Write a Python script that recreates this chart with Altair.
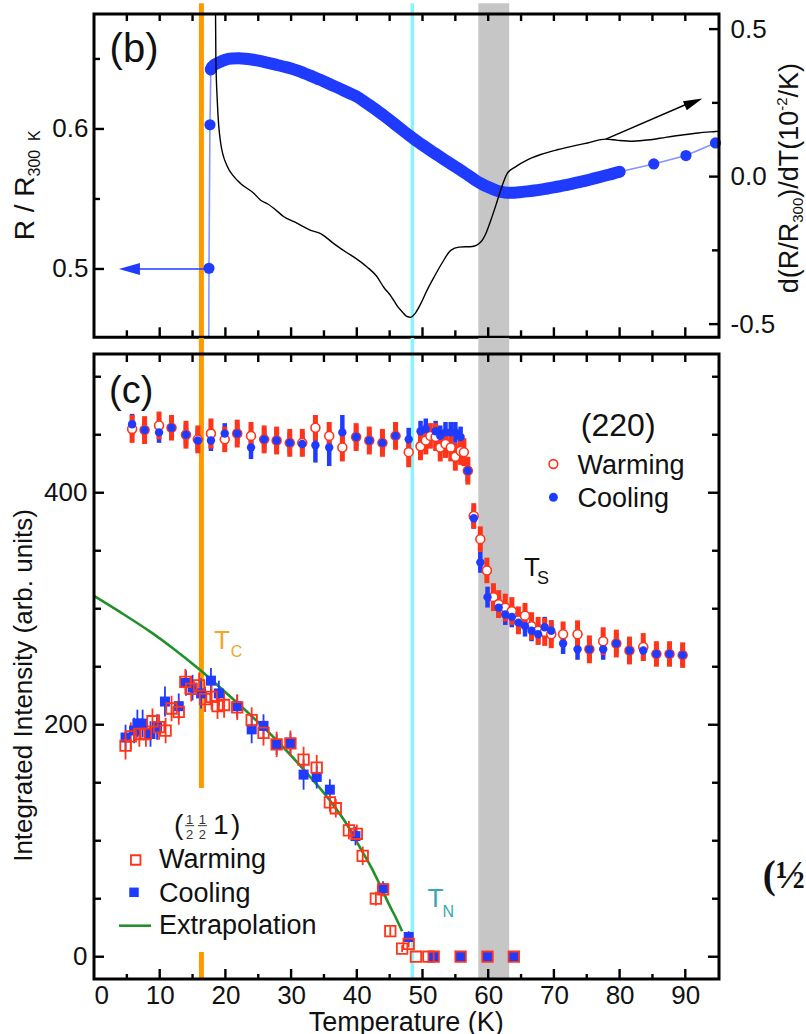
import altair as alt
import pandas as pd

FONT = "Liberation Sans"
SERIF = "Liberation Serif"
INK = "#111111"
BLUE = "#1f3bff"
RED = "#ff3418"
GREEN = "#22902a"
ORANGE = "#ff9900"
ORANGE_TXT = "#f7a22a"
CYAN = "#86f6fa"
TEAL = "#36a7b3"
GRAY = "#c6c6c6"
NB = "\u00a0"

# panel geometry (plot areas)
W = 625
H_TOP = 323.3
H_BOT = 625
GAP = 16
TOP_OVER = 10.7
LEFT_OFF = 93.3

T_DOM = [0, 95.13]
R_DOM = [0.4512, 0.6821]
D_DOM = [-0.5447, 0.5512]
I_DOM = [-19.2, 519.6]

# transition temperatures
T_C = 16.35
T_N = 48.45
T_S_LO, T_S_HI = 58.5, 63.2

# ---------------- (b) resistance ----------------
# steep drop at the superconducting transition and sparse high-T points
R_EDGE_T = [17.25, 17.5, 17.65, 17.78]
R_EDGE_V = [0.0, 0.5005, 0.603, 0.6425]
R_DENSE_T = [18, 19, 20, 21, 22, 23, 24, 25, 26, 27, 28, 29, 30, 31, 32, 33, 34, 35,
             36, 37, 38, 39, 40, 41, 42, 43, 44, 45, 46, 47, 48, 49, 50, 51, 52, 53,
             54, 55, 56, 57, 58, 59, 60, 61, 62, 63, 64, 65, 66, 67, 68, 69, 70, 71,
             72, 73, 74, 75, 76, 77, 78, 79, 80]
R_DENSE_V = [0.6445, 0.6475, 0.6495, 0.6503, 0.6505, 0.6502, 0.6496, 0.6488, 0.6478,
             0.6467, 0.6455, 0.6444, 0.6432, 0.6416, 0.6398, 0.6379, 0.6359, 0.6339,
             0.6318, 0.6297, 0.6275, 0.6253, 0.6231, 0.6200, 0.6168, 0.6135, 0.6100,
             0.6064, 0.6027, 0.5990, 0.5953, 0.5918, 0.5885, 0.5853, 0.5822, 0.5791,
             0.5760, 0.5730, 0.5700, 0.5668, 0.5635, 0.5608, 0.5585, 0.5565, 0.5550,
             0.5544, 0.5545, 0.5549, 0.5554, 0.5560, 0.5567, 0.5575, 0.5583, 0.5592,
             0.5601, 0.5611, 0.5622, 0.5633, 0.5645, 0.5657, 0.5669, 0.5681, 0.5694]
R_HIGH_T = [85.2, 90.1, 94.6]
R_HIGH_V = [0.575, 0.581, 0.590]

# derivative d(R/R300)/dT
D_T = [18.45, 18.55, 18.78, 19.28, 20.3, 21.3, 22.3, 24.35, 25.37, 26.4, 27.4, 28.9,
       30.44, 32.98, 34.5, 36.5, 38.5, 39.57, 41.6, 43.0, 44.1, 45.2, 46.2, 46.9,
       47.6, 48.2, 48.8, 49.7, 50.7, 51.75, 53.0, 54.3, 55.55, 57.6, 58.86, 59.7,
       60.4, 61.2, 61.9, 62.9, 64.2, 65.97, 68.0, 70.5, 73.0, 75.1, 77.9, 79.7,
       82.0, 84.7, 87.0, 89.8, 92.0, 94.6, 95.13]
D_V = [0.70, 0.40, 0.25, 0.114, 0.034, 0.0, -0.023, -0.057, -0.080, -0.092, -0.108,
       -0.136, -0.153, -0.182, -0.193, -0.227, -0.258, -0.273, -0.307, -0.337, -0.375,
       -0.405, -0.440, -0.458, -0.474, -0.477, -0.466, -0.432, -0.385, -0.341, -0.292,
       -0.250, -0.239, -0.237, -0.222, -0.190, -0.148, -0.095, -0.046, 0.011, 0.034,
       0.057, 0.075, 0.091, 0.104, 0.114, 0.127, 0.123, 0.120, 0.125, 0.133, 0.142,
       0.148, 0.153, 0.154]

# arrows pointing to each axis
ARROW_R = {"t0": 17.5, "t1": 5.0, "v": 0.5, "tip": 3.8}
ARROW_D = {"t0": 77.9, "t1": 91.5, "v0": 0.127, "v1": 0.258, "tip_t": 92.6, "tip_v": 0.265}

# ---------------- (c) (220) peak ----------------
W220_T = [5.8, 7.7, 9.9, 11.8, 14.0, 15.8, 17.8, 19.9, 21.8, 23.9, 25.9, 27.8, 29.8,
          31.7, 33.7, 35.8, 37.8, 39.9, 41.9, 43.9, 45.9, 47.9, 49.7, 50.5, 51.2, 52.0,
          52.7, 53.5, 54.3, 55.0, 55.8, 56.3, 56.9, 57.8, 58.8, 59.8, 60.8, 61.6, 62.6,
          63.6, 64.6, 65.6, 66.6, 67.6, 68.6, 69.6, 71.4, 73.6, 75.4, 77.5, 79.5, 81.5,
          83.6, 85.6, 87.6, 89.6]
W220_I = [455, 454, 458, 456, 450, 446, 451, 446, 451, 449, 446, 445, 443, 443, 456,
          449, 439, 448, 445, 443, 449, 435, 440, 445, 449, 448, 439, 442, 439, 431,
          436, 435, 419, 380, 360, 333, 310, 304, 301, 298, 290, 294, 285, 281, 280,
          278, 278, 278, 265, 272, 270, 264, 267, 261, 261, 260]
W220_E = [12, 12, 12, 11, 12, 12, 13, 11, 12, 12, 12, 12, 12, 12, 11, 12, 12, 12, 12,
          12, 12, 13, 12, 12, 11, 12, 12, 12, 12, 12, 12, 12, 12, 11, 11, 11, 12, 12,
          12, 12, 12, 11, 12, 12, 12, 12, 11, 12, 12, 12, 12, 12, 12, 11, 11, 11]
C220_T = [5.8, 7.7, 9.9, 11.8, 14.0, 15.8, 17.8, 19.9, 21.8, 23.9, 25.9, 27.8, 29.8,
          31.7, 33.7, 35.8, 37.8, 39.9, 41.9, 43.9, 45.9, 47.9, 49.7, 50.5, 52.0, 52.7,
          53.5, 54.3, 55.0, 55.8, 56.9, 57.8, 58.8, 59.9, 61.6, 62.6, 63.6, 64.6, 65.6,
          66.6, 67.6, 68.6, 69.6, 71.4, 73.6, 75.4, 77.5, 79.5, 81.5, 83.6, 85.6, 87.6,
          89.6]
C220_I = [459, 454, 452, 456, 450, 445, 445, 451, 451, 439, 446, 445, 443, 442, 441,
          439, 452, 448, 445, 443, 449, 446, 453, 455, 453, 449, 452, 452, 452, 448,
          419, 378, 340, 310, 301, 295, 293, 288, 285, 281, 278, 284, 281, 270, 265,
          265, 265, 270, 264, 264, 261, 261, 260]
C220_E = [9, 9, 9, 9, 9, 9, 9, 9, 9, 10, 9, 9, 9, 10, 15, 16, 15, 10, 9, 9, 10, 10, 9,
          9, 9, 9, 9, 9, 9, 9, 9, 9, 9, 9, 9, 9, 9, 9, 9, 9, 9, 9, 9, 9, 9, 9, 9, 9, 10,
          9, 9, 9, 9]

# ---------------- (c) (1/2 1/2 1) magnetic peak ----------------
HW_T = [4.8, 5.6, 6.9, 7.9, 8.9, 9.9, 10.9, 11.8, 12.9, 13.9, 14.8, 16.0, 16.9, 17.9,
        18.8, 19.8, 21.8, 24.0, 25.8, 27.8, 29.9, 31.9, 33.9, 35.9, 36.8, 38.8, 40.0,
        40.9, 42.9, 44.0, 45.1, 46.9, 47.9, 49.0, 50.9, 51.7, 55.8, 59.9, 63.9]
HW_I = [182, 190, 192, 192, 203, 198, 195, 214, 211, 237, 231, 234, 222, 224, 216,
        217, 215, 204, 193, 183, 184, 170, 163, 133, 128, 109, 106, 87, 50, 58, 22, 7,
        11, 0, 0, 0, 0, 0, 0]
HW_E = [12, 12, 11, 11, 11, 11, 11, 11, 11, 11, 11, 11, 11, 11, 11, 11, 11, 11, 11,
        11, 11, 11, 11, 8, 8, 8, 8, 8, 6, 6, 4, 3, 3, 0, 0, 0, 0, 0, 0]
HC_T = [4.8, 6.1, 6.6, 7.4, 8.6, 9.6, 10.8, 12.9, 14.0, 15.0, 16.3, 17.8, 19.0, 21.8,
        24.0, 25.8, 27.8, 29.9, 31.9, 33.9, 35.9, 39.8, 44.0, 47.9, 51.7, 55.8, 59.9,
        63.9]
HC_I = [189, 195, 201, 201, 192, 198, 220, 216, 236, 232, 227, 238, 227, 216, 196,
        199, 183, 184, 157, 155, 144, 104, 59, 17, 0, 0, 0, 0]
HC_E = [11, 11, 12, 12, 11, 11, 13, 11, 11, 11, 13, 11, 11, 10, 12, 10, 9, 9, 13, 10,
        9, 8, 6, 5, 0, 0, 0, 0]

# order-parameter extrapolation
EX_T = [0, 4, 8.6, 12, 16.2, 19.8, 23.9, 27.9, 31.5, 36.0, 38.5, 40.6, 42.2, 43.6,
        45.0, 46.0, 46.9]
EX_I = [311, 297, 280, 266, 247, 229, 208, 186, 164, 134, 114, 93, 77, 61, 44, 33, 22]

# tick positions
T_MAJOR = [10, 20, 30, 40, 50, 60, 70, 80, 90]
T_MINOR = [5, 15, 25, 35, 45, 55, 65, 75, 85]
T_LABELS = [0, 10, 20, 30, 40, 50, 60, 70, 80, 90]
R_MAJOR, R_MINOR = [0.5, 0.6], [0.55, 0.65]
D_MAJOR, D_MINOR = [-0.5, 0.0, 0.5], [-0.25, 0.25]
I_MAJOR = [0, 200, 400]
I_MINOR = [50, 100, 150, 250, 300, 350, 450, 500]

# glyph advance widths (Arial metrics) used to chain sub/superscript pieces
ADV = {"d": 0.556, "(": 0.333, ")": 0.333, "R": 0.722, "/": 0.278, "3": 0.556,
       "0": 0.556, "T": 0.611, "1": 0.556, "-": 0.333, "2": 0.556, "K": 0.667,
       " ": 0.278, NB: 0.278}

xs = alt.Scale(domain=T_DOM, nice=False, zero=False)
rs = alt.Scale(domain=R_DOM, nice=False, zero=False)
ds = alt.Scale(domain=D_DOM, nice=False, zero=False)
ys = alt.Scale(domain=I_DOM, nice=False, zero=False)

ONE = pd.DataFrame({"k": [0]})


def X(field="t"):
    return alt.X(f"{field}:Q", scale=xs, axis=None)


def text(s, x, y, size, color=INK, align="left", angle=0, font=FONT,
         weight="normal", baseline="alphabetic"):
    return alt.Chart(ONE).mark_text(
        text=s, align=align, baseline=baseline, fontSize=size, font=font,
        fontWeight=weight, color=color, angle=angle
    ).encode(x=alt.value(x), y=alt.value(y))


def rotated_runs(pieces, x_base, y_start):
    """Chain rotated (reading upward) text pieces with baseline shifts."""
    layers, pos = [], y_start
    for s, size, shift in pieces:
        layers.append(text(s, x_base + shift, pos, size, angle=270))
        pos -= sum(ADV[c] for c in s) * size
    return layers


def vline(t, color, width, y0, y1):
    return alt.Chart(pd.DataFrame({"t": [t]})).mark_rule(
        color=color, strokeWidth=width).encode(x=X(), y=alt.value(y0), y2=alt.value(y1))


def band(y0, y1):
    return alt.Chart(pd.DataFrame({"a": [T_S_LO], "b": [T_S_HI]})).mark_rect(
        color=GRAY).encode(x=X("a"), x2="b:Q", y=alt.value(y0), y2=alt.value(y1))


def xticks(vals, y0, y1):
    return alt.Chart(pd.DataFrame({"t": vals})).mark_rule(
        color="black", strokeWidth=2.4).encode(x=X(), y=alt.value(y0), y2=alt.value(y1))


def yticks(vals, scale, x0, x1):
    return alt.Chart(pd.DataFrame({"v": vals})).mark_rule(
        color="black", strokeWidth=2.4).encode(
        y=alt.Y("v:Q", scale=scale, axis=None), x=alt.value(x0), x2=alt.value(x1))


def frame(h):
    return alt.Chart(ONE).mark_rect(fillOpacity=0, stroke="black", strokeWidth=3).encode(
        x=alt.value(0), x2=alt.value(W), y=alt.value(0), y2=alt.value(h))


AXIS_LABELS = dict(ticks=False, tickSize=0, domain=False, grid=False, labelFont=FONT,
                   labelFontSize=26, labelColor=INK, title=None)

# ======================= panel (b) =======================
r_line = pd.DataFrame({"t": R_EDGE_T + R_DENSE_T + R_HIGH_T,
                       "v": R_EDGE_V + R_DENSE_V + R_HIGH_V})
r_dense = pd.DataFrame({"t": R_EDGE_T[-1:] + R_DENSE_T, "v": R_EDGE_V[-1:] + R_DENSE_V})
r_dots = pd.DataFrame({"t": R_EDGE_T[1:] + R_DENSE_T + R_HIGH_T,
                       "v": R_EDGE_V[1:] + R_DENSE_V + R_HIGH_V})
deriv = pd.DataFrame({"t": D_T, "v": D_V})

thin_r = alt.Chart(r_line).mark_line(color=BLUE, strokeWidth=1.6, opacity=0.55, clip=True).encode(
    x=X(), y=alt.Y("v:Q", scale=rs, axis=None))
thick_r = alt.Chart(r_dense).mark_line(color=BLUE, strokeWidth=12, strokeCap="round",
                                       interpolate="monotone").encode(
    x=X(), y=alt.Y("v:Q", scale=rs, axis=None))
dots_r = alt.Chart(r_dots).mark_circle(size=125, color=BLUE, opacity=1).encode(
    x=X(), y=alt.Y("v:Q", scale=rs, axis=alt.Axis(orient="left", values=R_MAJOR, format=".1f",
                                                   labelPadding=6, **AXIS_LABELS)))
arrow_r = alt.Chart(pd.DataFrame({"a": [ARROW_R["t0"]], "b": [ARROW_R["t1"]],
                                  "v": [ARROW_R["v"]]})).mark_rule(
    color=BLUE, strokeWidth=1.6).encode(x=X("a"), x2="b:Q", y=alt.Y("v:Q", scale=rs, axis=None))
head_r = alt.Chart(pd.DataFrame({"t": [ARROW_R["tip"]], "v": [ARROW_R["v"]]})).mark_point(
    shape="M0,0L1,-0.29L1,0.29Z", size=1764, filled=True, color=BLUE, opacity=1).encode(
    x=X(), y=alt.Y("v:Q", scale=rs, axis=None))

curve_d = alt.Chart(deriv).mark_line(color="black", strokeWidth=1.4, clip=True,
                                     interpolate="monotone").encode(
    x=X(), y=alt.Y("v:Q", scale=ds, axis=alt.Axis(
        orient="right", values=D_MAJOR, labelPadding=11,
        labelExpr="datum.value < 0 ? '-' + format(-datum.value, '.1f') : format(datum.value, '.1f')",
        **AXIS_LABELS)))
arrow_d = alt.Chart(pd.DataFrame({"a": [ARROW_D["t0"]], "b": [ARROW_D["t1"]],
                                  "v0": [ARROW_D["v0"]], "v1": [ARROW_D["v1"]]})).mark_rule(
    color="black", strokeWidth=1.4).encode(
    x=X("a"), x2="b:Q", y=alt.Y("v0:Q", scale=ds, axis=None), y2="v1:Q")
head_d = alt.Chart(pd.DataFrame({"t": [ARROW_D["tip_t"]], "v": [ARROW_D["tip_v"]]})).mark_point(
    shape="M0,0L-1,-0.26L-1,0.26Z", size=1444, filled=True, color="black", opacity=1,
    angle=337.3).encode(x=X(), y=alt.Y("v:Q", scale=ds, axis=None))

left_title = rotated_runs([(f"R{NB}/{NB}R", 28, 0), (f"300{NB}{NB}K", 16, 6)], -60.3, 226.3)
right_title = rotated_runs([("d(R/R", 27, 0), ("300", 15, 5), (")/dT(10", 27, 0),
                            ("-2", 15, -11), ("/K)", 27, 0)], 703.7, 279.3)

anchor = alt.Chart(ONE).mark_rule(opacity=0, strokeWidth=0).encode(
    x=alt.value(-LEFT_OFF), y=alt.value(-TOP_OVER), y2=alt.value(0))

top = alt.layer(
    band(-TOP_OVER, H_TOP),
    vline(T_N, CYAN, 3.5, -TOP_OVER, H_TOP),
    vline(T_C, ORANGE, 5, -TOP_OVER, H_TOP),
    thin_r, thick_r, dots_r, arrow_r, head_r,
    curve_d, arrow_d, head_d,
    xticks(T_MAJOR + T_MINOR, 0, 7),
    xticks(T_MAJOR, H_TOP - 10, H_TOP),
    xticks(T_MINOR, H_TOP - 7, H_TOP),
    yticks(R_MAJOR, rs, 0, 10),
    yticks(R_MINOR, rs, 0, 6),
    yticks(D_MAJOR, ds, W - 10, W),
    yticks(D_MINOR, ds, W - 7, W),
    frame(H_TOP),
    text("(b)", 40, 47.6, 40, align="center"),
    *left_title, *right_title,
    anchor,
).resolve_scale(y="independent").properties(width=W, height=H_TOP)

# ======================= panel (c) =======================
def err_rules(ts, vals, errs, color, width):
    d = pd.DataFrame({"t": ts, "lo": [v - e for v, e in zip(vals, errs)],
                      "hi": [v + e for v, e in zip(vals, errs)]})
    return alt.Chart(d).mark_rule(color=color, strokeWidth=width).encode(
        x=X(), y=alt.Y("lo:Q", scale=ys, axis=None), y2="hi:Q")


def pts(ts, vals):
    return pd.DataFrame({"t": ts, "v": vals})


def Yc():
    return alt.Y("v:Q", scale=ys, axis=None)


extrap = alt.Chart(pts(EX_T, EX_I)).mark_line(color=GREEN, strokeWidth=2.6,
                                              interpolate="monotone").encode(
    x=alt.X("t:Q", scale=xs, axis=alt.Axis(orient="bottom", values=T_LABELS, format="d",
                                           labelPadding=3, **AXIS_LABELS)),
    y=alt.Y("v:Q", scale=ys, axis=alt.Axis(orient="left", values=I_MAJOR, format="d",
                                           labelPadding=7, **AXIS_LABELS)))

mag_blue_sq = alt.Chart(pts(HC_T, HC_I)).mark_square(size=100, color=BLUE, opacity=1).encode(
    x=X(), y=Yc())
mag_red_sq = alt.Chart(pts(HW_T, HW_I)).mark_square(
    size=110, filled=False, color=RED, strokeWidth=1.8, opacity=1).encode(x=X(), y=Yc())
nuc_red = alt.Chart(pts(W220_T, W220_I)).mark_circle(
    size=80, color=RED, fill="white", stroke=RED, strokeWidth=1.6, opacity=1).encode(
    x=X(), y=Yc())
nuc_blue = alt.Chart(pts(C220_T, C220_I)).mark_circle(size=70, color=BLUE, opacity=1).encode(
    x=X(), y=Yc())

leg_red_circ = alt.Chart(ONE).mark_circle(size=75, color=RED, fill="white", stroke=RED,
                                          strokeWidth=1.6, opacity=1).encode(
    x=alt.value(459.4), y=alt.value(110))
leg_blue_dot = alt.Chart(ONE).mark_circle(size=80, color=BLUE, opacity=1).encode(
    x=alt.value(459.4), y=alt.value(143.3))
leg_red_sq = alt.Chart(ONE).mark_square(size=90, filled=False, color=RED, strokeWidth=1.8,
                                        opacity=1).encode(x=alt.value(41.7), y=alt.value(506))
leg_blue_sq = alt.Chart(ONE).mark_square(size=90, color=BLUE, opacity=1).encode(
    x=alt.value(40), y=alt.value(538.3))
leg_green = alt.Chart(ONE).mark_rule(color=GREEN, strokeWidth=2.6).encode(
    x=alt.value(25), x2=alt.value(57), y=alt.value(571.7))


def frac_bar(xc):
    return alt.Chart(ONE).mark_rule(color="#333333", strokeWidth=1).encode(
        x=alt.value(xc - 4.5), x2=alt.value(xc + 4.5), y=alt.value(471.7))


bottom = alt.layer(
    band(-GAP, H_BOT),
    vline(T_N, CYAN, 3.5, -GAP, H_BOT),
    vline(T_C, ORANGE, 5, -GAP, 434),
    vline(T_C, ORANGE, 5, 598, H_BOT),
    extrap,
    err_rules(HC_T, HC_I, HC_E, BLUE, 1.8),
    err_rules(HW_T, HW_I, HW_E, RED, 1.8),
    mag_blue_sq, mag_red_sq,
    err_rules(C220_T, C220_I, C220_E, BLUE, 4.5),
    err_rules(W220_T, W220_I, W220_E, RED, 5),
    nuc_red, nuc_blue,
    xticks(T_MAJOR + T_MINOR, 0, 8),
    xticks(T_MAJOR, H_BOT - 10, H_BOT),
    xticks(T_MINOR, H_BOT - 5, H_BOT),
    yticks(I_MAJOR, ys, 0, 10),
    yticks(I_MINOR, ys, 0, 7),
    yticks(I_MAJOR, ys, W - 11, W),
    yticks(I_MINOR, ys, W - 7, W),
    frame(H_BOT),
    text("(c)", 37.2, 49.3, 38, align="center"),
    # (220) legend
    text("(220)", 524.2, 81.7, 32, align="center"),
    leg_red_circ, leg_blue_dot,
    text("Warming", 483.4, 120, 27),
    text("Cooling", 483.4, 153, 27),
    # transition labels
    text("T", 430, 222, 26), text("S", 443, 230, 18),
    text("T", 120, 295, 26, color=ORANGE_TXT), text("C", 136.7, 303.3, 16, color=ORANGE_TXT),
    text("T", 333.4, 553.3, 26, color=TEAL), text("N", 348.4, 563.3, 16, color=TEAL),
    # (1/2 1/2 1) legend
    text("(", 84.7, 480, 28, align="center"),
    text("1", 95.7, 469.5, 13, align="center", color="#333333"),
    text("2", 95.7, 485, 13, align="center", color="#333333"),
    frac_bar(95.7),
    text("1", 108.4, 469.5, 13, align="center", color="#333333"),
    text("2", 108.4, 485, 13, align="center", color="#333333"),
    frac_bar(108.4),
    text("1", 126.7, 480, 28, align="center"),
    text(")", 141.7, 480, 28, align="center"),
    leg_red_sq, leg_blue_sq, leg_green,
    text("Warming", 65, 514, 27),
    text("Cooling", 65, 548, 27),
    text("Extrapolation", 65, 580, 27),
    # axis titles
    text("Temperature (K)", 312.2, 676.6, 27, align="center"),
    text("Integrated Intensity (arb. units)", -62, 331.5, 26, align="center", angle=270),
    text("(\u00bd", 668.7, 534, 39, font=SERIF, weight="bold"),
).resolve_axis(x="independent", y="independent").properties(width=W, height=H_BOT)

chart = alt.vconcat(top, bottom, spacing=GAP, bounds="flush").configure_view(
    stroke=None).properties(padding=0, background="white")

chart.save("out.html", embed_options={"renderer": "svg", "actions": False})
